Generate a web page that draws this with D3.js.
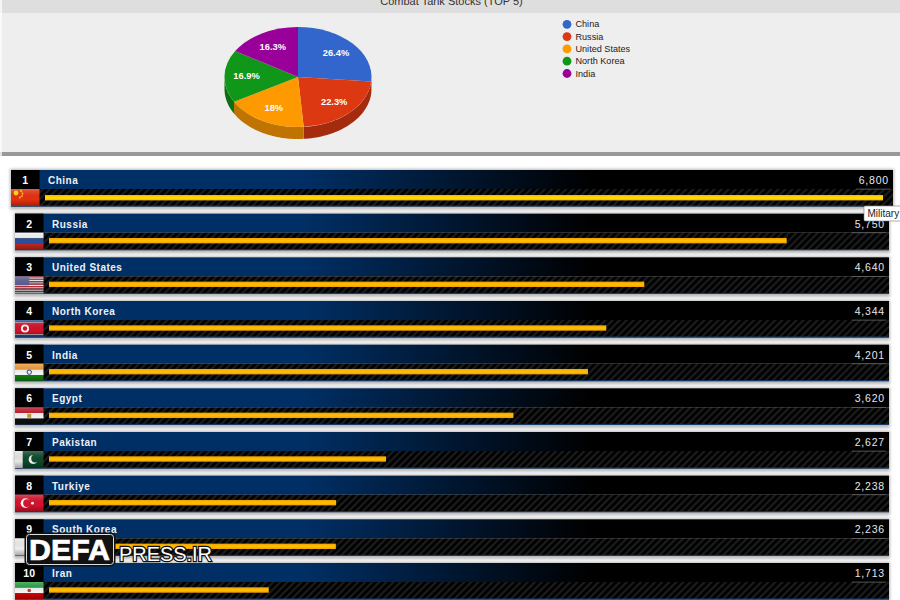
<!DOCTYPE html>
<html><head><meta charset="utf-8">
<script src="https://cdn.jsdelivr.net/npm/d3@7"></script>
<style>html,body{margin:0;padding:0;background:#fff}svg{display:block}text{font-family:"Liberation Sans",Arial,sans-serif}</style>
</head><body><svg id="c" width="900" height="600"></svg>
<script>
const title = "Combat Tank Stocks (TOP 5)";
const pieNames = ["China","Russia","United States","North Korea","India"];
const pieValues = [6800,5750,4640,4344,4201];
const pieLabels = ["26.4%","22.3%","18%","16.9%","16.3%"];
const pieColors = ["#3366cc","#dc3912","#ff9900","#109618","#990099"];
const pieWalls = ["#264d99","#a52b0e","#bf7300","#0c7012","#730073"];
const countries = ["China","Russia","United States","North Korea","India","Egypt","Pakistan","Turkiye","South Korea","Iran"];
const tanks = [6800,5750,4640,4344,4201,3620,2627,2238,2236,1713];
const tankLabels = ["6,800","5,750","4,640","4,344","4,201","3,620","2,627","2,238","2,236","1,713"];
const ranks = [1,2,3,4,5,6,7,8,9,10];
const flags = {
 "China":[["#e8300f",1]],
 "Russia":[["#f4f4f4",1],["#2a4fa0",1],["#c8281e",1]],
 "United States":"us",
 "North Korea":[["#1f4fa0",.12],["#fff",.04],["#d2142a",.68],["#fff",.04],["#1f4fa0",.12]],
 "India":[["#f09a36",1],["#f6f6f6",1],["#138808",1]],
 "Egypt":[["#c0182a",1],["#f4f4f4",1],["#111",1]],
 "Pakistan":"pk",
 "Turkiye":[["#d8122c",1]],
 "South Korea":[["#eee",1]],
 "Iran":[["#239f40",1],["#f6f6f6",1],["#da0000",1]]
};

const svg = d3.select("#c");
const defs = svg.append("defs");
const hdr = defs.append("linearGradient").attr("id","hdr");
hdr.append("stop").attr("offset","0").attr("stop-color","#002f65");
hdr.append("stop").attr("offset","0.33").attr("stop-color","#002f65");
hdr.append("stop").attr("offset","0.66").attr("stop-color","#000");
hdr.append("stop").attr("offset","1").attr("stop-color","#000");
const bar = defs.append("linearGradient").attr("id","bar").attr("x2",0).attr("y2",1);
bar.append("stop").attr("offset","0").attr("stop-color","#f0a000");
bar.append("stop").attr("offset","0.5").attr("stop-color","#ffc000");
bar.append("stop").attr("offset","1").attr("stop-color","#f0a000");
const bar1 = defs.append("linearGradient").attr("id","bar1").attr("x2",0).attr("y2",1);
bar1.append("stop").attr("offset","0").attr("stop-color","#f5b400");
bar1.append("stop").attr("offset","0.5").attr("stop-color","#ffe000");
bar1.append("stop").attr("offset","1").attr("stop-color","#f5b400");
const sheen = defs.append("linearGradient").attr("id","sheen").attr("x2",0).attr("y2",1);
sheen.append("stop").attr("offset","0").attr("stop-color","#fff").attr("stop-opacity",.22);
sheen.append("stop").attr("offset","0.6").attr("stop-color","#000").attr("stop-opacity",0);
sheen.append("stop").attr("offset","1").attr("stop-color","#000").attr("stop-opacity",.3);
const hatch = defs.append("pattern").attr("id","hatch").attr("width",5).attr("height",5)
  .attr("patternUnits","userSpaceOnUse").attr("patternTransform","rotate(-45)");
hatch.append("rect").attr("width",5).attr("height",5).attr("fill","#000");
hatch.append("rect").attr("width",5).attr("height",2.2).attr("fill","#1c1c1c");
const blur = defs.append("filter").attr("id","soft").attr("x","-10%").attr("y","-30%").attr("width","120%").attr("height","160%");
blur.append("feGaussianBlur").attr("stdDeviation",1.5);

// top panel
svg.append("rect").attr("width",900).attr("height",13).attr("fill","#dedede");
svg.append("rect").attr("y",13).attr("width",900).attr("height",139).attr("fill","#eeeeee");
svg.append("rect").attr("y",152).attr("width",900).attr("height",4).attr("fill","#999");
svg.append("rect").attr("width",2).attr("height",156).attr("fill","#fff").attr("opacity",.7);
svg.append("text").attr("x",451.5).attr("y",5).attr("text-anchor","middle")
  .attr("font-size",11).attr("fill","#333").text(title);

// pie
const cx=298, cy=77, rx=73.5, ry=50, depth=12;
const arcs = d3.pie().sort(null).value(d=>d)(pieValues);
const pieG = svg.append("g");
const ell = a => [cx+rx*Math.sin(a), cy-ry*Math.cos(a)];
arcs.forEach((a,i)=>{
  const lo=Math.max(a.startAngle,Math.PI/2), hi=Math.min(a.endAngle,Math.PI*1.5);
  if(hi<=lo) return;
  const top=d3.range(0,41).map(k=>ell(lo+(hi-lo)*k/40));
  const pts=top.concat(top.slice().reverse().map(p=>[p[0],p[1]+depth]));
  pieG.append("path").attr("d",d3.line()(pts)+"Z").attr("fill",pieWalls[i]);
});
const arc = d3.arc().innerRadius(0).outerRadius(rx);
pieG.selectAll("path.s").data(arcs).join("path").attr("class","s")
  .attr("transform",`translate(${cx},${cy}) scale(1,${ry/rx})`)
  .attr("d",arc).attr("fill",(d,i)=>pieColors[i]);
pieG.selectAll("text").data(arcs).join("text")
  .attr("x",d=>{const m=(d.startAngle+d.endAngle)/2;return cx+rx*.7*Math.sin(m)})
  .attr("y",d=>{const m=(d.startAngle+d.endAngle)/2;return cy-ry*.7*Math.cos(m)+3})
  .attr("text-anchor","middle").attr("font-size",9.3).attr("font-weight",700).attr("fill","#fff")
  .text((d,i)=>pieLabels[i]);

// legend
const lg = svg.append("g").selectAll("g").data(pieNames).join("g")
  .attr("transform",(d,i)=>`translate(567,${24.3+i*12.3})`);
lg.append("circle").attr("r",4.4).attr("fill",(d,i)=>pieColors[i]);
lg.append("text").attr("x",8.5).attr("y",3).attr("font-size",9.1).attr("fill","#222").text(d=>d);

// rows
const rowY = d3.scaleLinear().domain([1,10]).range([170,563]);
const rowFont = '"Open Sans",Roboto,sans-serif';
const xLen = d3.scaleLinear().domain([0,6532]).range([0,838]).clamp(true);
const rows = svg.append("g").selectAll("g").data(countries).join("g")
  .attr("transform",(d,i)=>`translate(${i==0?11:15},${rowY(ranks[i])})`);
const W = i => i==0?882:874;
const H = 36.5;
rows.append("rect").attr("x",-1).attr("y",-1).attr("width",(d,i)=>W(i)+2).attr("height",H+4)
  .attr("fill","#999").attr("opacity",.7).attr("filter","url(#soft)");
rows.append("rect").attr("width",(d,i)=>W(i)).attr("height",19).attr("fill","url(#hdr)");
rows.append("rect").attr("y",19).attr("width",(d,i)=>W(i)).attr("height",H-19).attr("fill","url(#hatch)");
rows.append("rect").attr("y",H-1).attr("width",(d,i)=>W(i)).attr("height",1).attr("fill","#123f75");
rows.append("rect").attr("width",28.5).attr("height",19).attr("fill","#000");

// flags
rows.each(function(name){
  const g=d3.select(this).append("g").attr("transform","translate(0,19)");
  const w=28.5,h=17, f=flags[name];
  if(Array.isArray(f)){
    const t=d3.sum(f,d=>d[1]); let y=0;
    f.forEach(s=>{const hh=h*s[1]/t; g.append("rect").attr("y",y).attr("width",w).attr("height",hh).attr("fill",s[0]); y+=hh;});
  }
  if(f==="us"){
    d3.range(7).forEach(k=>{
      g.append("rect").attr("y",k*h/7).attr("width",w).attr("height",h/14).attr("fill","#b5303f");
      g.append("rect").attr("y",k*h/7+h/14).attr("width",w).attr("height",h/14).attr("fill","#eee");
    });
    g.append("rect").attr("width",w*.5).attr("height",h*.53).attr("fill","#5a5f8f");
  }
  if(f==="pk"){
    g.append("rect").attr("width",w).attr("height",h).attr("fill","#0c4a2a");
    g.append("rect").attr("width",w*.27).attr("height",h).attr("fill","#e8e8e8");
    g.append("circle").attr("cx",w*.64).attr("cy",h*.5).attr("r",4.6).attr("fill","#f4f4f4");
    g.append("circle").attr("cx",w*.71).attr("cy",h*.44).attr("r",4).attr("fill","#0c4a2a");
  }
  if(name==="China"){
    g.append("circle").attr("cx",5).attr("cy",4).attr("r",2.4).attr("fill","#ffde00");
    [[10,2],[11.5,4.5],[11,7],[9,8.5]].forEach(p=>g.append("circle").attr("cx",p[0]).attr("cy",p[1]).attr("r",.9).attr("fill","#ffde00"));
  }
  if(name==="North Korea"){
    g.append("circle").attr("cx",10).attr("cy",h/2).attr("r",4).attr("fill","#fff");
    g.append("circle").attr("cx",10).attr("cy",h/2).attr("r",2.2).attr("fill","#d2142a");
  }
  if(name==="India"){
    g.append("circle").attr("cx",w/2).attr("cy",h/2).attr("r",2.2).attr("fill","none").attr("stroke","#223a8a");
  }
  if(name==="Egypt"){
    g.append("rect").attr("x",w/2-2).attr("y",h/2-2).attr("width",4).attr("height",4).attr("fill","#c09a30");
  }
  if(name==="Turkiye"){
    g.append("circle").attr("cx",10.5).attr("cy",h/2).attr("r",4.8).attr("fill","#fff");
    g.append("circle").attr("cx",12).attr("cy",h/2).attr("r",3.8).attr("fill","#d8122c");
    g.append("circle").attr("cx",17.5).attr("cy",h/2).attr("r",1.4).attr("fill","#fff");
  }
  if(name==="South Korea"){
    g.append("circle").attr("cx",w/2).attr("cy",h/2).attr("r",4).attr("fill","#c60c30");
  }
  if(name==="Iran"){
    g.append("circle").attr("cx",w/2).attr("cy",h/2).attr("r",1.8).attr("fill","#c83a3a");
  }
  g.append("rect").attr("width",w).attr("height",h).attr("fill","url(#sheen)");
});

rows.append("text").attr("x",14.2).attr("y",14).attr("text-anchor","middle")
  .attr("font-family",'"DejaVu Serif",serif').attr("font-size",10.5).attr("font-weight",700).attr("fill","#fff")
  .text((d,i)=>ranks[i]);
rows.append("text").attr("x",37).attr("y",14).attr("font-family",rowFont).attr("font-size",10)
  .attr("font-weight",600).attr("letter-spacing",.5).attr("fill","#eef1f5").text(d=>d);
rows.append("text").attr("x",(d,i)=>W(i)-4).attr("y",14).attr("text-anchor","end").attr("font-family",rowFont)
  .attr("font-size",10.5).attr("font-weight",500).attr("letter-spacing",.8).attr("fill","#e8e8e8").text((d,i)=>tankLabels[i]);
rows.append("rect").attr("x",(d,i)=>W(i)-37).attr("y",18.7).attr("width",34).attr("height",.8).attr("fill","#666");
rows.append("rect").attr("x",34).attr("y",(d,i)=>i==0?25:24.3).attr("height",5.4)
  .attr("width",(d,i)=>xLen(tanks[i])).attr("fill",(d,i)=>i==0?"url(#bar1)":"url(#bar)");

// tooltip
const tip = svg.append("g").attr("transform","translate(864,206)");
tip.append("rect").attr("width",40).attr("height",15).attr("rx",1).attr("fill","#fff").attr("stroke","#777").attr("stroke-width",.6);
tip.append("text").attr("x",3.5).attr("y",11).attr("font-size",10).attr("fill","#222").text("Military");

// watermark
const wm = svg.append("g").attr("transform","translate(25,533)");
wm.append("rect").attr("x",.5).attr("y",.5).attr("width",89).attr("height",32).attr("rx",4).attr("fill","#111").attr("stroke","#111").attr("stroke-width",2);
wm.append("rect").attr("x",1.5).attr("y",1.5).attr("width",87).attr("height",30).attr("rx",3).attr("fill","none").attr("stroke","#ddd").attr("stroke-width",1);
wm.append("text").attr("x",4).attr("y",27).attr("font-size",29).attr("font-weight",700).attr("fill","#fff").attr("stroke","#fff").attr("stroke-width",.7).attr("textLength",81).attr("lengthAdjust","spacingAndGlyphs").text("DEFA");
wm.append("text").attr("x",94).attr("y",28).attr("font-size",20).attr("fill","#fff").attr("stroke","#111").attr("stroke-width",2.4).attr("paint-order","stroke").attr("textLength",93).attr("lengthAdjust","spacingAndGlyphs").text("PRESS.IR");
</script></body></html>
